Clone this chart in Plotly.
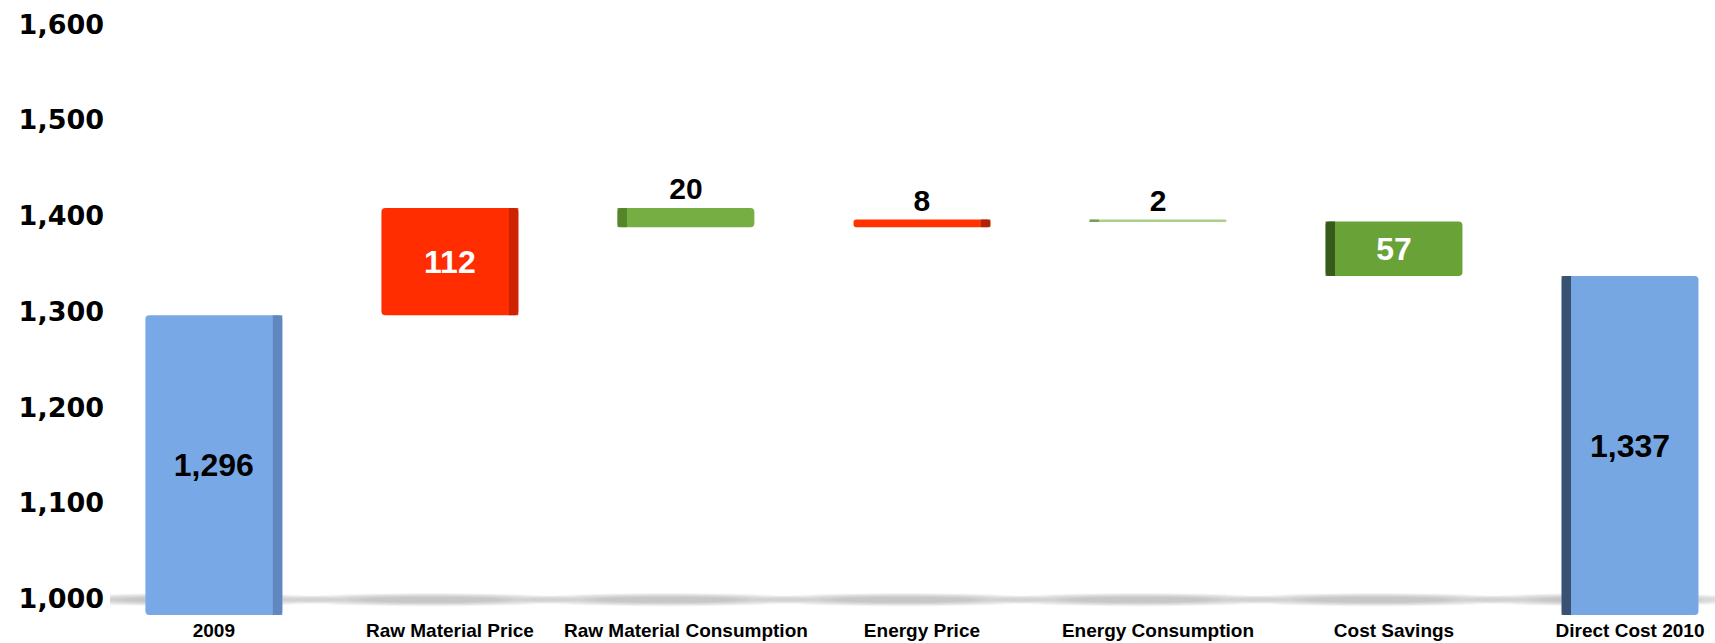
import plotly.graph_objects as go

categories = ["2009", "Raw Material Price", "Raw Material Consumption", "Energy Price",
              "Energy Consumption", "Cost Savings", "Direct Cost 2010"]
measures = ["total", "up", "down", "up", "down", "down", "total"]
values = [1296, 112, 20, 8, 2, 57, 1337]
y_ticks = [1000, 1100, 1200, 1300, 1400, 1500, 1600]

main_colors = ["#78a9e6", "#ff2d00", "#76ae44", "#ff3300", "#a9d08c", "#69a236", "#76a7e3"]
side_colors = ["#5a80b4", "#c22000", "#4e7a26", "#9a1f00", "#6e8f58", "#2c4a15", "#2b3d57"]
side_left = [False, False, True, False, True, True, True]
label_colors = ["black", "white", "black", "black", "black", "white", "black"]
label_pos = ["inside", "inside", "outside", "outside", "outside", "inside", "inside"]

Y_MIN, Y_MAX = 983, 1620
BAR_W = 0.58
SIDE_W = 0.04

# compute waterfall bases/heights from the data
bases, heights = [], []
running = 0
for m, v in zip(measures, values):
    if m == "total":
        bases.append(Y_MIN)
        heights.append(v - Y_MIN)
        running = v
    elif m == "up":
        bases.append(running)
        heights.append(v)
        running += v
    else:
        running -= v
        bases.append(running)
        heights.append(v)

labels = [f"{v:,}" for v in values]
x_idx = list(range(len(categories)))

fig = go.Figure()

# soft floor shadows (layered translucent ellipses)
shapes = []
n_layers = 8
for i in list(x_idx) + [-1]:
    for k in range(n_layers):
        hw = 0.62 - k * 0.045
        hh = 7 - k * 0.6
        shapes.append(dict(type="circle", xref="x", yref="y", layer="below",
                           x0=i - hw - 0.08, x1=i + hw - 0.08,
                           y0=999 - hh, y1=999 + hh,
                           fillcolor="#7a7a7a", opacity=0.06, line=dict(width=0)))

fig.add_trace(go.Bar(
    x=x_idx, y=heights, base=bases, width=BAR_W,
    marker=dict(color=main_colors, line=dict(width=0), cornerradius=4),
    text=labels, textposition=label_pos, insidetextanchor="middle",
    textfont=dict(family="Liberation Sans", size=32, color=label_colors, weight="bold"),
    outsidetextfont=dict(family="Liberation Sans", size=30, color="black", weight="bold"),
    constraintext="none", cliponaxis=False, hoverinfo="skip", showlegend=False,
))

offsets = [(-BAR_W / 2) if l else (BAR_W / 2 - SIDE_W) for l in side_left]
fig.add_trace(go.Bar(
    x=x_idx, y=heights, base=bases, width=SIDE_W, offset=offsets,
    marker=dict(color=side_colors, line=dict(width=0), opacity=0.8),
    hoverinfo="skip", showlegend=False,
))

fig.update_layout(
    width=1715, height=643,
    margin=dict(l=110, r=0, t=5, b=28),
    paper_bgcolor="white", plot_bgcolor="white",
    barmode="overlay", showlegend=False,
    shapes=shapes,
    xaxis=dict(range=[-0.44, 6.36], tickvals=x_idx, ticktext=categories,
               showgrid=False, zeroline=False, showline=False, ticks="",
               tickfont=dict(family="Liberation Sans", size=19, color="black", weight="bold"),
               ticklabelstandoff=2),
    yaxis=dict(range=[Y_MIN, Y_MAX], tickvals=y_ticks, tickformat=",",
               showgrid=False, zeroline=False, showline=False, ticks="",
               tickfont=dict(family="DejaVu Sans", size=27, color="black", weight="bold"),
               ticklabelstandoff=5),
)

fig.write_html("out.html")
